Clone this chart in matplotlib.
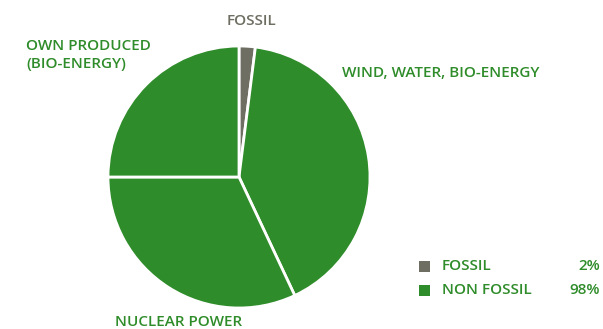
import matplotlib.pyplot as plt
from matplotlib.patches import Rectangle

plt.rcParams['font.family'] = ['Open Sans', 'DejaVu Sans']

# slices, clockwise from 12 o'clock
labels = ['FOSSIL', 'WIND, WATER, BIO-ENERGY', 'NUCLEAR POWER', 'OWN PRODUCED\n(BIO-ENERGY)']
shares = [2, 41, 32, 25]
legend_names = ['FOSSIL', 'NON FOSSIL']
legend_values = ['2%', '98%']

green = '#2f8c2a'
gray = '#6f6e63'
colors = [gray, green, green, green]

W, H = 603, 329
fig = plt.figure(figsize=(W / 100, H / 100), dpi=100)
ax = fig.add_axes([0, 0, 1, 1])
ax.set_xlim(0, W)
ax.set_ylim(0, H)
ax.set_aspect('equal')
ax.axis('off')

ax.pie(shares, colors=colors, startangle=90, counterclock=False,
       center=(239, H - 177), radius=131,
       wedgeprops=dict(edgecolor='white', linewidth=2))
ax.set_xlim(0, W)
ax.set_ylim(0, H)

fs = 11
kw = dict(fontsize=fs, fontweight='semibold')
ax.text(251, H - 21, labels[0], color=gray, ha='center', va='center', **kw)
ax.text(26, H - 55, labels[3], color=green, ha='left', va='center', linespacing=1.45, **kw)
ax.text(342, H - 73, labels[1], color=green, ha='left', va='center', **kw)
ax.text(115, H - 322, labels[2], color=green, ha='left', va='center', **kw)

leg_colors = [gray, green]
for i, (name, val) in enumerate(zip(legend_names, legend_values)):
    y = H - (266 + i * 24.5)
    ax.add_patch(Rectangle((419, y - 5.5), 11, 11, color=leg_colors[i], lw=0))
    ax.text(442, y, name, color=green, ha='left', va='center', **kw)
    ax.text(600, y, val, color=green, ha='right', va='center', **kw)

fig.savefig('out.png', dpi=100)
